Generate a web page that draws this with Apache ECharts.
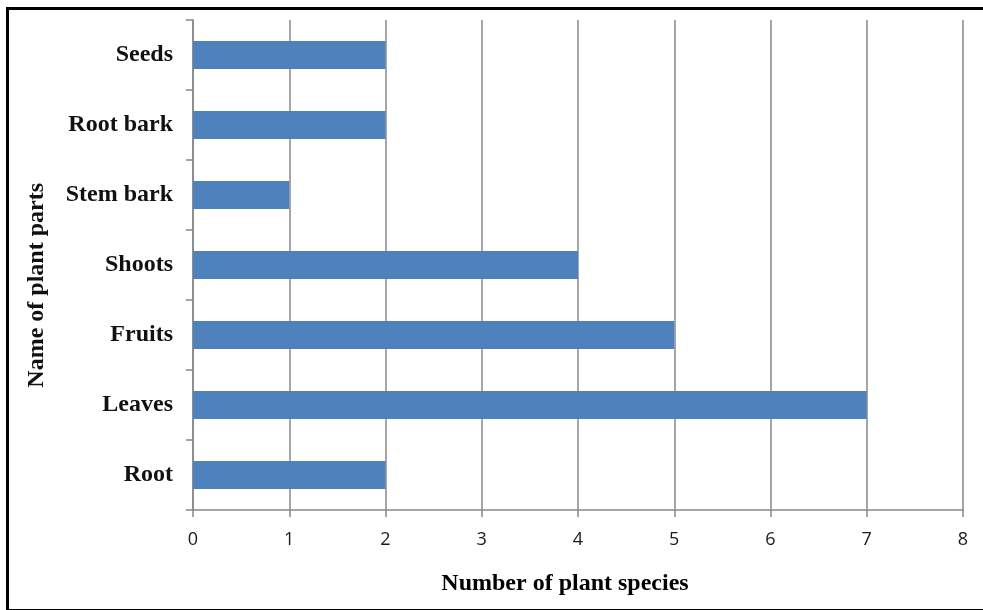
<!DOCTYPE html>
<html><head><meta charset="utf-8">
<script src="https://cdn.jsdelivr.net/npm/echarts@6/dist/echarts.min.js"></script>
<style>
html,body{margin:0;padding:0;background:#fff;}
#wrap{position:relative;width:983px;height:610px;}
#c{width:983px;height:610px;}
#frame{position:absolute;left:6px;top:7px;width:990px;height:599px;border-left:3px solid #000;border-top:3px solid #000;border-bottom:2px solid #000;pointer-events:none;}
</style></head>
<body>
<div id="wrap"><div id="c"></div><div id="frame"></div></div>
<script>
const categories = ['Root', 'Leaves', 'Fruits', 'Shoots', 'Stem bark', 'Root bark', 'Seeds'];
const values = [2, 7, 5, 4, 1, 2, 2];
const xTicks = [0, 1, 2, 3, 4, 5, 6, 7, 8];
const xTitle = 'Number of plant species';
const yTitle = 'Name of plant parts';

const chart = echarts.init(document.getElementById('c'));
const serif = '"Liberation Serif", "Times New Roman", serif';
const gray = '#888888';
chart.setOption({
  animation: false,
  grid: {left: 193, right: 20, top: 20, bottom: 100, containLabel: false},
  xAxis: {
    type: 'value', min: xTicks[0], max: xTicks[xTicks.length - 1], interval: 1,
    name: xTitle, nameLocation: 'middle', nameGap: 62,
    nameTextStyle: {fontFamily: serif, fontWeight: 'bold', fontSize: 24, color: '#000', padding: [0, 26, 0, 0]},
    axisLine: {show: true, lineStyle: {color: gray, width: 1.5}},
    axisTick: {show: true, length: 7, lineStyle: {color: gray, width: 1.5}},
    axisLabel: {margin: 21, fontFamily: '"Open Sans", "Liberation Sans", sans-serif', fontSize: 18, color: '#1a1a1a'},
    splitLine: {show: true, lineStyle: {color: gray, width: 1.5}}
  },
  yAxis: {
    type: 'category', data: categories,
    axisLine: {show: true, lineStyle: {color: gray, width: 1.5}},
    axisTick: {show: true, length: 7, lineStyle: {color: gray, width: 1.5}},
    axisLabel: {margin: 20, fontFamily: serif, fontWeight: 'bold', fontSize: 24, color: '#111'},
    splitLine: {show: false}
  },
  graphic: [{
    type: 'text', left: 25, top: 183,
    rotation: Math.PI / 2,
    style: {text: yTitle, font: 'bold 24px ' + serif, fill: '#111'}
  }],
  series: [{
    type: 'bar', data: values, barWidth: '40%',
    itemStyle: {color: '#4F81BD'}
  }]
});
</script>
</body></html>
